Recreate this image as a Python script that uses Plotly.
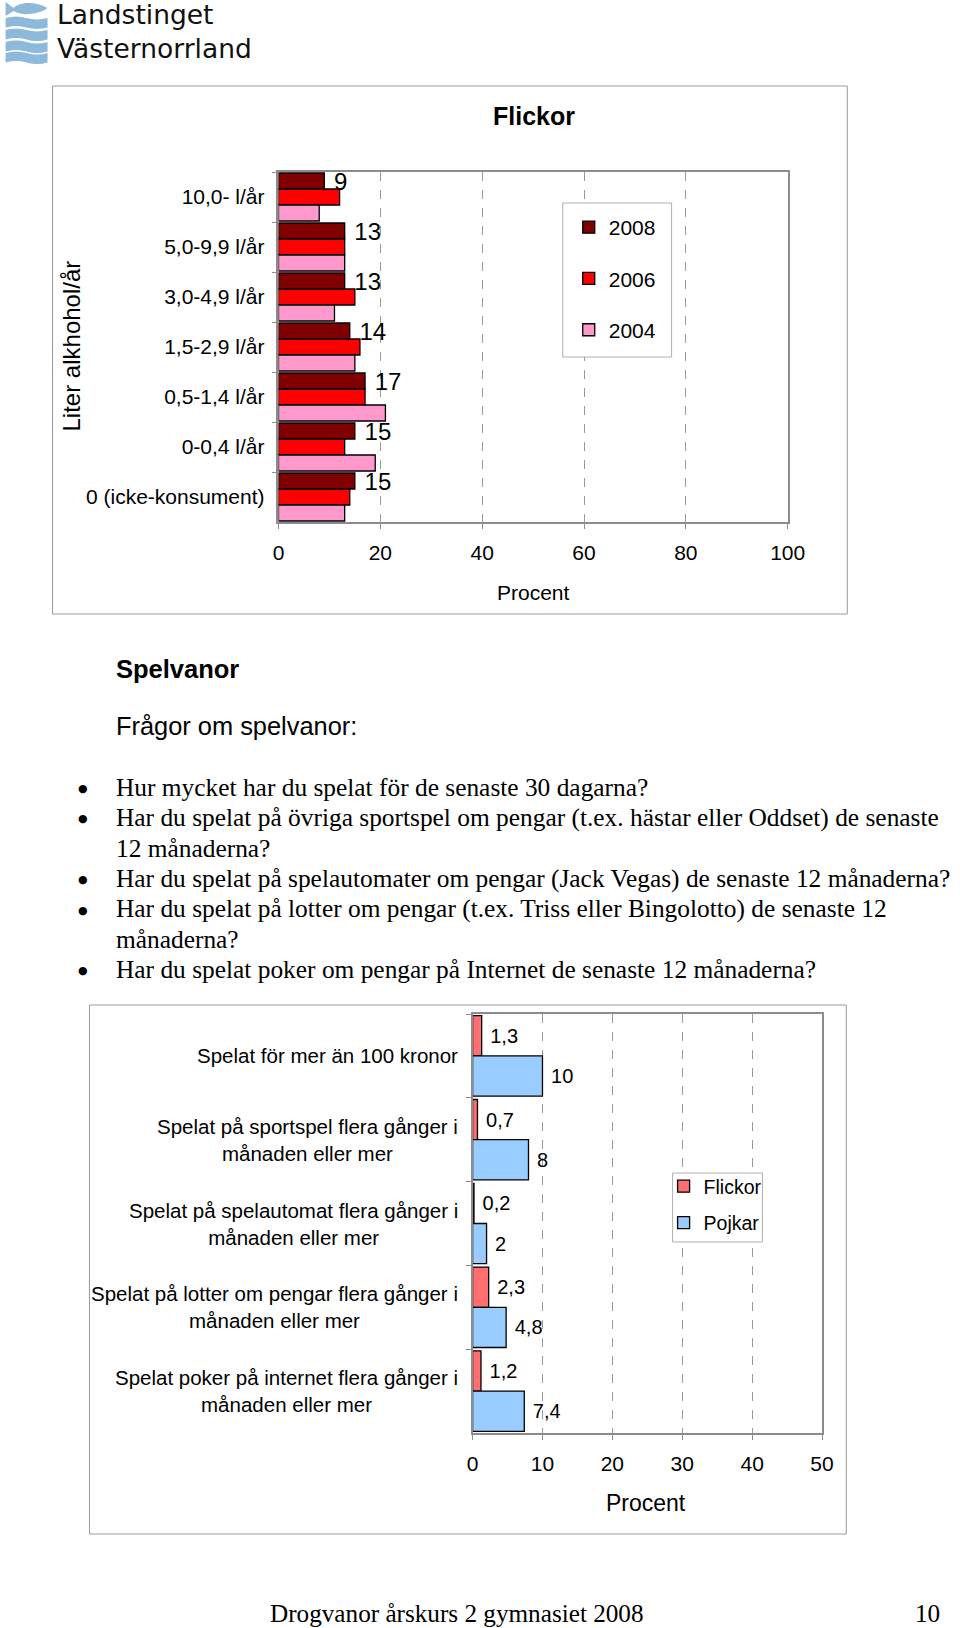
import plotly.graph_objects as go

W, H = 960, 1628
# The rendered page maps layout x to screen x as  x_screen = 5.4 + 0.9765 * x_layout,
# so horizontal targets (in screen pixels) are converted back here.
XS, XO = 0.9765, 5.4
def px(x): return ((x - XO) / XS) / W
def py(y): return 1 - y / H

SANS = "Liberation Sans, Arial, sans-serif"
SERIF = "Liberation Serif, Times New Roman, serif"

# ---------------- data: top chart (Flickor, alcohol) ----------------
alc_categories = ["10,0- l/år", "5,0-9,9 l/år", "3,0-4,9 l/år", "1,5-2,9 l/år",
                  "0,5-1,4 l/år", "0-0,4 l/år", "0 (icke-konsument)"]
alc_2008 = [9, 13, 13, 14, 17, 15, 15]
alc_2006 = [12, 13, 15, 16, 17, 13, 14]
alc_2004 = [8, 13, 11, 15, 21, 19, 13]
alc_years = ["2008", "2006", "2004"]
alc_ticks = [0, 20, 40, 60, 80, 100]

# ---------------- data: bottom chart (gambling) ----------------
gamb_categories = ["Spelat för mer än 100 kronor",
                   "Spelat på sportspel flera gånger i<br>månaden eller mer",
                   "Spelat på spelautomat flera gånger i<br>månaden eller mer",
                   "Spelat på lotter om pengar flera gånger i<br>månaden eller mer",
                   "Spelat poker på internet flera gånger i<br>månaden eller mer"]
gamb_flickor = [1.3, 0.7, 0.2, 2.3, 1.2]
gamb_pojkar = [10, 8, 2, 4.8, 7.4]
gamb_series = ["Flickor", "Pojkar"]
gamb_ticks = [0, 10, 20, 30, 40, 50]

# ---------------- text ----------------
logo_text = "Landstinget<br>Västernorrland"
section_title = "Spelvanor"
section_sub = "Frågor om spelvanor:"
bullet_lines = [
    (True, "Hur mycket har du spelat för de senaste 30 dagarna?"),
    (True, "Har du spelat på övriga sportspel om pengar (t.ex. hästar eller Oddset) de senaste"),
    (False, "12 månaderna?"),
    (True, "Har du spelat på spelautomater om pengar (Jack Vegas) de senaste 12 månaderna?"),
    (True, "Har du spelat på lotter om pengar (t.ex. Triss eller Bingolotto) de senaste 12"),
    (False, "månaderna?"),
    (True, "Har du spelat poker om pengar på Internet de senaste 12 månaderna?"),
]
footer_text = "Drogvanor årskurs 2 gymnasiet 2008"
page_no = "10"

def fmt(v):
    return f"{v:g}".replace(".", ",")

fig = go.Figure()

alc_colors = {"2008": "#800000", "2006": "#FF0000", "2004": "#FF99CC"}
for name, vals in zip(alc_years, [alc_2008, alc_2006, alc_2004]):
    fig.add_trace(go.Bar(
        x=vals, y=alc_categories, orientation="h", name=name,
        marker=dict(color=alc_colors[name], line=dict(color="black", width=1.3)),
        text=[" " + str(v) for v in vals] if name == "2008" else None,
        textposition="outside", cliponaxis=False, constraintext="none",
        textfont=dict(family=SANS, size=24, color="black"),
        xaxis="x", yaxis="y", legend="legend", legendgroup=name,
        hoverinfo="skip"))

gamb_colors = {"Flickor": "#FF6F6F", "Pojkar": "#99CCFF"}
for name, vals in zip(gamb_series, [gamb_flickor, gamb_pojkar]):
    fig.add_trace(go.Bar(
        x=vals, y=gamb_categories, orientation="h", name=name,
        marker=dict(color=gamb_colors[name], line=dict(color="black", width=1.3)),
        text=[" " + fmt(v) for v in vals],
        textposition="outside", cliponaxis=False, constraintext="none",
        textfont=dict(family=SANS, size=20, color="black"),
        xaxis="x2", yaxis="y2", legend="legend2", legendgroup=name,
        hoverinfo="skip"))

axis_common = dict(showline=True, mirror=True, linecolor="#8c8c8c", linewidth=1.5,
                   ticks="outside", ticklen=5, tickcolor="#8c8c8c",
                   tickfont=dict(family=SANS, size=21, color="black"), zeroline=False)

fig.update_layout(
    width=W, height=H, margin=dict(l=0, r=0, t=0, b=0), autosize=False,
    paper_bgcolor="white", plot_bgcolor="white",
    barmode="group", bargap=0.04, bargroupgap=0,
    showlegend=True,
    xaxis=dict(domain=[px(278.3), px(788.3)], range=[0, 100], tickvals=alc_ticks,
               showgrid=True, gridcolor="#9a9a9a", griddash="dash", gridwidth=1,
               anchor="y", ticklabelstandoff=6, **axis_common),
    yaxis=dict(domain=[py(522), py(172)], autorange="reversed", type="category",
               tickson="boundaries", showgrid=False, anchor="x",
               ticklabelstandoff=8, **axis_common),
    xaxis2=dict(domain=[px(472.7), px(822.7)], range=[0, 50], tickvals=gamb_ticks,
                showgrid=True, gridcolor="#9a9a9a", griddash="dash", gridwidth=1,
                anchor="y2", ticklabelstandoff=6, **axis_common),
    yaxis2=dict(domain=[py(1433), py(1014)], autorange="reversed", type="category",
                tickson="boundaries", showgrid=False, showticklabels=False,
                anchor="x2", **axis_common),
    legend=dict(x=px(569), y=py(207), xanchor="left", yanchor="top",
                borderwidth=0, bgcolor="rgba(0,0,0,0)",
                font=dict(family=SANS, size=21, color="black"),
                traceorder="grouped", tracegroupgap=21),
    legend2=dict(x=px(664), y=py(1167), xanchor="left", yanchor="top",
                 borderwidth=0, bgcolor="rgba(0,0,0,0)",
                 font=dict(family=SANS, size=19.5, color="black"),
                 traceorder="grouped", tracegroupgap=8),
)

ann = []
def add_text(x, y, text, size, family=SANS, xanchor="left", bold=False, angle=0,
             color="black", align="left"):
    if bold:
        text = f"<b>{text}</b>"
    ann.append(dict(x=px(x), y=py(y), xref="paper", yref="paper", text=text,
                    showarrow=False, xanchor=xanchor, yanchor="middle", align=align,
                    textangle=angle, font=dict(family=family, size=size, color=color)))

# top chart texts
add_text(534, 116, "Flickor", 25, xanchor="center", bold=True)
add_text(70, 346, "Liter alkhohol/år", 24, xanchor="center", angle=-90)
add_text(534, 592, "Procent", 21, xanchor="center")

# bottom chart y labels (centered multi-line, right edge at the label column)
for cat in gamb_categories:
    ann.append(dict(x=px(460), y=cat, xref="paper", yref="y2", text=cat,
                    showarrow=False, xanchor="right", yanchor="middle", align="center",
                    font=dict(family=SANS, size=20.5, color="black")))
add_text(646.5, 1503, "Procent", 23, xanchor="center")

# section text
add_text(114, 669, section_title, 25.5, bold=True)
add_text(114, 726, section_sub, 25.4)
for i, (bullet, line) in enumerate(bullet_lines):
    y = 787 + i * 30.4
    if bullet:
        add_text(83, y + 1.5, "●", 11, family="DejaVu Sans", xanchor="center")
    add_text(114, y, line, 25.4, family=SERIF)

# footer
add_text(456.6, 1613, footer_text, 25.2, family=SERIF, xanchor="center")
ann.append(dict(x=1.0, y=py(1613), xref="paper", yref="paper", text=page_no,
                showarrow=False, xanchor="right", yanchor="middle",
                font=dict(family=SERIF, size=25.2, color="black")))

# logo text
add_text(54, 31.7, logo_text, 26.5, family="DejaVu Sans", color="#111111")

fig.update_layout(annotations=ann)

# shapes: chart boxes, legend boxes and logo
shapes = []
def rect(x0, y0, x1, y1, color="#9a9a9a", fill="rgba(0,0,0,0)", layer="below"):
    shapes.append(dict(type="rect", xref="paper", yref="paper",
                       x0=px(x0), x1=px(x1), y0=py(y1), y1=py(y0),
                       line=dict(color=color, width=1), fillcolor=fill, layer=layer))
rect(52, 86, 848, 614)
rect(89, 1005, 847, 1534)
rect(563, 203, 672, 357, color="#b0b0b0", fill="white", layer="above")
rect(673, 1173, 763, 1242, color="#b0b0b0", fill="white", layer="above")

def pth(cmds):
    out = []
    for tok in cmds:
        out.append(tok if isinstance(tok, str) else f"{px(tok[0]):.5f},{py(tok[1]):.5f}")
    return " ".join(out)

logo_blue = "#8DB9DB"
fish = pth(["M", (5, 2), "L", (13, 8), "C", (19, 2), (35, 1), (47, 8),
            "C", (38, 15), (20, 16), (13, 11), "L", (5, 16), "Z"])
shapes.append(dict(type="path", xref="paper", yref="paper", path=fish,
                   fillcolor=logo_blue, line=dict(width=0)))
for y0 in [18, 30, 42, 53]:
    y1 = y0 + 9.5
    band = pth(["M", (5, y0), "Q", (15.5, y0 - 3), (26, y0), "Q", (36.5, y0 + 3), (47, y0),
                "L", (47, y1), "Q", (36.5, y1 + 3), (26, y1), "Q", (15.5, y1 - 3), (5, y1), "Z"])
    shapes.append(dict(type="path", xref="paper", yref="paper", path=band,
                       fillcolor=logo_blue, line=dict(width=0)))
fig.update_layout(shapes=shapes)

fig.write_html("out.html")
